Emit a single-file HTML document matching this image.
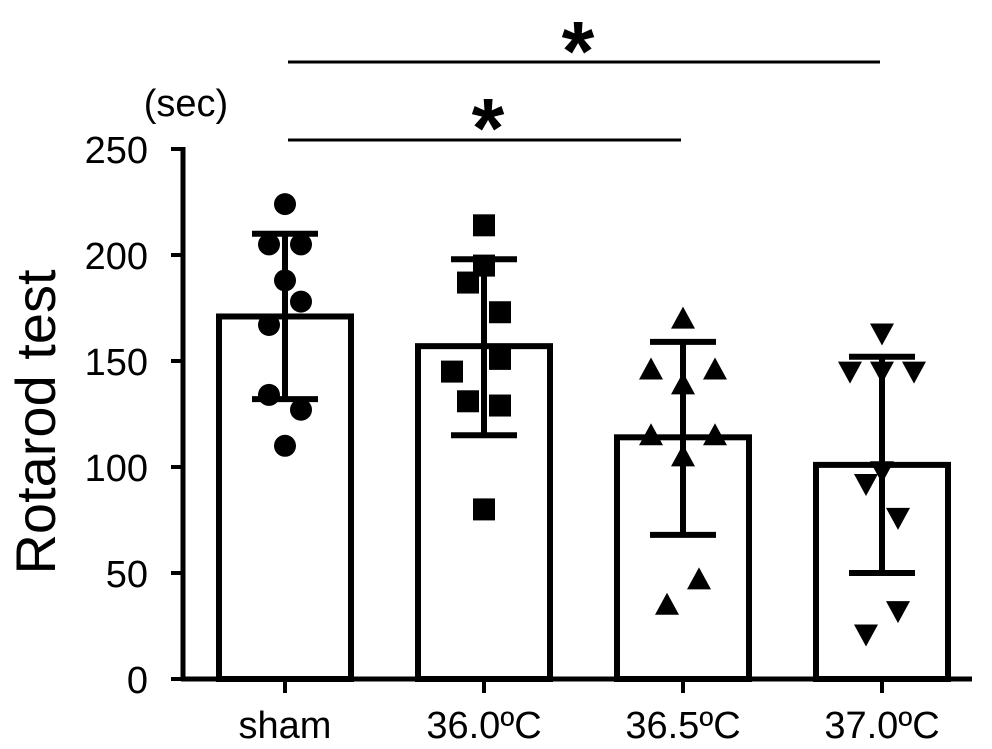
<!DOCTYPE html>
<html><head><meta charset="utf-8"><style>
body{margin:0;background:#fff;}
svg{display:block;font-family:"Liberation Sans",Arial,sans-serif;}
</style></head><body>
<svg id="chart" width="992" height="749" viewBox="0 0 992 749"></svg>
<script>
const categories=["sham","36.0ºC","36.5ºC","37.0ºC"];
const means=[171,157,114,101];
const sdHigh=[210,198,159,152];
const sdLow=[132,115,68,50];
const shamPts=[224,205,205,188,178,167,134,127,110];
const shamOff=[0,-1,1,0,1,-1,-1,1,0];
const t360Pts=[214,195,187,173,151,145,131,129,80];
const t360Off=[0,0,-1,1,1,-2,-1,1,0];
const t365Pts=[170,146,146,139,115,115,105,47,35];
const t365Off=[0,-2,2,0,-2,2,0,1,-1];
const t370Pts=[163,145,145,145,98,92,76,32,21];
const t370Off=[0,-2,0,2,0,-1,1,1,-1];
const yTicks=[0,50,100,150,200,250];
const points=[shamPts,t360Pts,t365Pts,t370Pts];
const offs=[shamOff,t360Off,t365Off,t370Off];
const shapes=["circle","square","up","down"];

const NS="http://www.w3.org/2000/svg";
const svg=document.getElementById("chart");
const y=v=>679-v*2.12;
const x=i=>285+i*199;
const dx=16;
function mk(tag,attrs,parent){const e=document.createElementNS(NS,tag);for(const k in attrs)e.setAttribute(k,attrs[k]);(parent||svg).appendChild(e);return e;}

const yaxis=mk("line",{x1:183,y1:y(250)-2,x2:183,y2:681,stroke:"#000","stroke-width":5});


yTicks.forEach(t=>{
  const tk=mk("line",{x1:171,y1:y(t),x2:183,y2:y(t),stroke:"#000","stroke-width":4});
  
  
  const lb=mk("text",{x:148,y:y(t)+14,"text-anchor":"end","font-size":38});
  lb.textContent=t;
  
  
});
const xaxis=mk("line",{x1:181,y1:679,x2:972,y2:679,stroke:"#000","stroke-width":5});



categories.forEach((c,i)=>{
  const cx=x(i);
  const bar=mk("rect",{x:cx-66,y:y(means[i]),width:132,height:679-y(means[i]),fill:"#fff",stroke:"#000","stroke-width":6});
  
  
  const tk=mk("line",{x1:cx,y1:679,x2:cx,y2:693,stroke:"#000","stroke-width":4});
  
  
  const lb=mk("text",{x:cx,y:738,"text-anchor":"middle","font-size":38});
  lb.textContent=c;
  
  
  points[i].forEach((v,j)=>{
    const px=cx+offs[i][j]*dx, py=y(v);
    let m;
    if(shapes[i]=="circle") m=mk("circle",{cx:px,cy:py,r:11,fill:"#000"});
    else if(shapes[i]=="square") m=mk("rect",{x:px-11,y:py-11,width:22,height:22,fill:"#000"});
    else if(shapes[i]=="up") m=mk("polygon",{points:`${px},${py-12} ${px-12},${py+10} ${px+12},${py+10}`,fill:"#000"});
    else m=mk("polygon",{points:`${px},${py+12} ${px-12},${py-10} ${px+12},${py-10}`,fill:"#000"});
    
    
  });
  const eg=mk("g",{stroke:"#000","stroke-width":6});
  
  
  mk("line",{x1:cx,y1:y(sdHigh[i]),x2:cx,y2:y(sdLow[i])},eg);
  mk("line",{x1:cx-33,y1:y(sdHigh[i]),x2:cx+33,y2:y(sdHigh[i])},eg);
  mk("line",{x1:cx-33,y1:y(sdLow[i]),x2:cx+33,y2:y(sdLow[i])},eg);
});

const s1=mk("line",{x1:288,y1:62,x2:880,y2:62,stroke:"#000","stroke-width":3});


const s2=mk("line",{x1:288,y1:140,x2:681,y2:140,stroke:"#000","stroke-width":3});


const st1=mk("text",{x:578,y:80,"text-anchor":"middle","font-size":84,"font-weight":"bold"});
st1.textContent="*";


const st2=mk("text",{x:488,y:157,"text-anchor":"middle","font-size":84,"font-weight":"bold"});
st2.textContent="*";



const unit=mk("text",{x:186,y:116,"text-anchor":"middle","font-size":38});
unit.textContent="(sec)";


const yt=mk("text",{x:0,y:0,"text-anchor":"middle","font-size":56,transform:"translate(55,422) rotate(-90)"});
yt.textContent="Rotarod test";


</script>
</body></html>
